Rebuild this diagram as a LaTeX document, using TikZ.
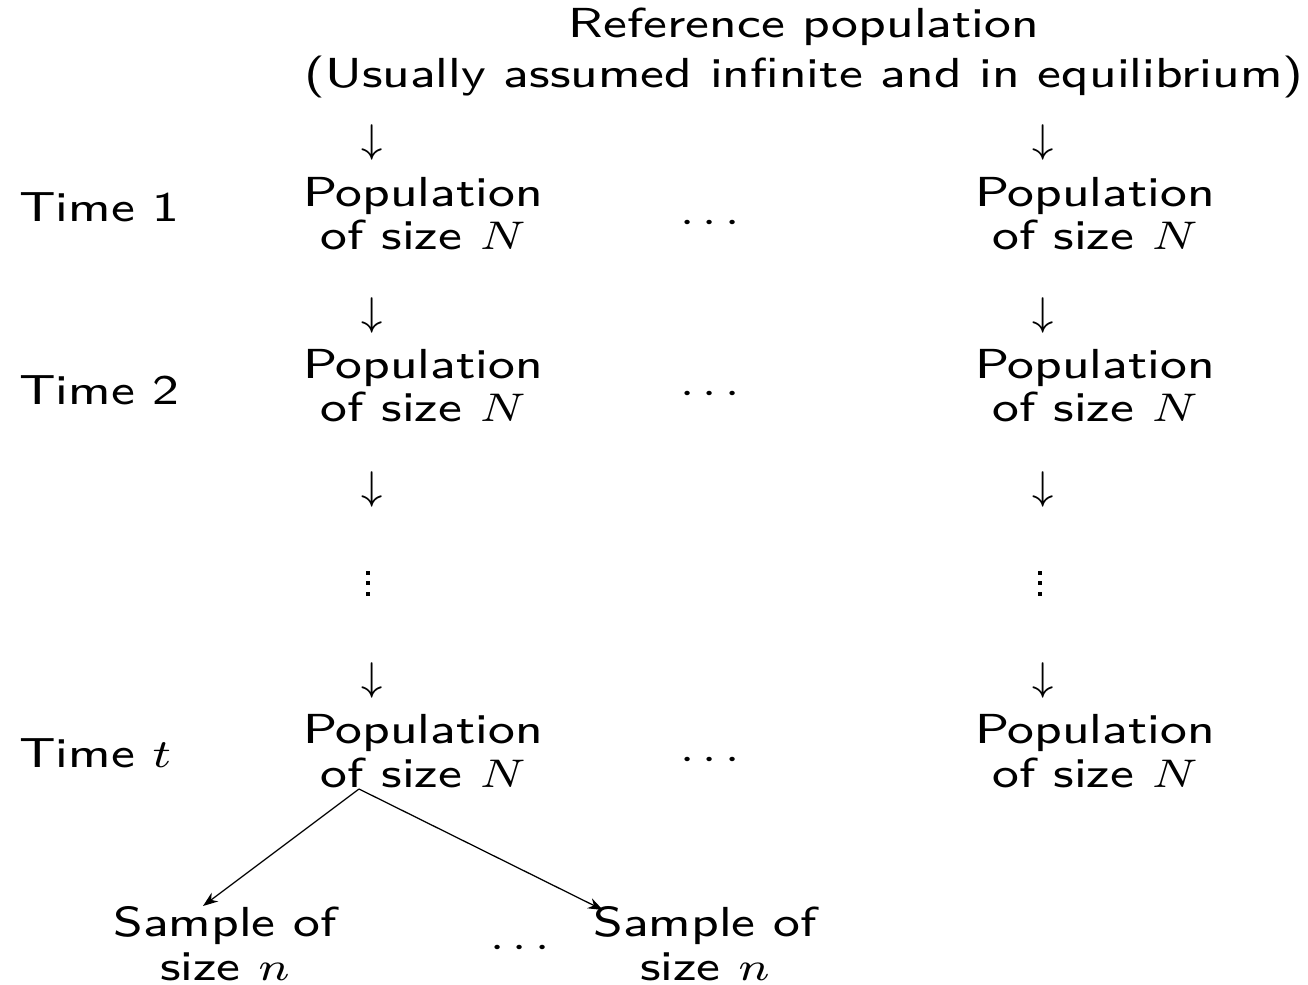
\documentclass[tikz,border=0pt]{standalone}
\usepackage{amsmath}
\usetikzlibrary{arrows.meta}
\begin{document}
\begin{tikzpicture}[x=0.2pt,y=-0.2pt,
  txt/.style={font=\sffamily\fontsize{8.4}{8.7}\selectfont, inner sep=0pt, align=center, anchor=base, xscale=1.2},
  ttl/.style={txt, font=\sffamily\fontsize{8.4}{10}\selectfont},
  arr/.style={font=\fontsize{8.4}{9}\selectfont, inner sep=0pt},
  vdot/.style={fill=black, draw=none, minimum size=0.8pt, inner sep=0pt, shape=rectangle},
  conn/.style={-{Stealth[length=3pt,width=2.2pt]}, line width=0.25pt}]
\useasboundingbox (0,0) rectangle (1308,985);
\node[ttl] (ref) at (804,88) {Reference population\\(Usually assumed infinite and in equilibrium)};
\node[arr] (a1l) at (372,143) {$\downarrow$};
\node[arr] (a1r) at (1043,143) {$\downarrow$};
\node[txt] (p1l) at (423,250) {Population\\of size $N$};
\node[txt] (p1r) at (1095,250) {Population\\of size $N$};
\node[txt,anchor=base west] (t1) at (18,222) {Time 1};
\node[txt] (d1) at (714,233) {$\cdots$};
\node[arr] (a2l) at (372,316) {$\downarrow$};
\node[arr] (a2r) at (1043,316) {$\downarrow$};
\node[txt] (p2l) at (423,422) {Population\\of size $N$};
\node[txt] (p2r) at (1095,422) {Population\\of size $N$};
\node[txt,anchor=base west] (t2) at (18,405) {Time 2};
\node[txt] (d2) at (714,404) {$\cdots$};
\node[arr] (a3l) at (372,490) {$\downarrow$};
\node[arr] (a3r) at (1043,490) {$\downarrow$};
\foreach \yy [count=\k] in {573,583.5,594}{
  \node[vdot] (vl\k) at (368,\yy) {};
  \node[vdot] (vr\k) at (1040,\yy) {};
}
\node[arr] (a4l) at (372,681) {$\downarrow$};
\node[arr] (a4r) at (1043,681) {$\downarrow$};
\node[txt] (ptl) at (423,787) {Population\\of size $N$};
\node[txt] (ptr) at (1095,787) {Population\\of size $N$};
\node[txt,anchor=base west] (tt) at (18,767) {Time $t$};
\node[txt] (dt) at (714,769) {$\cdots$};
\coordinate (src) at (359,789);
\node[txt] (s1) at (225,980) {Sample of\\size $n$};
\node[txt] (s2) at (705,980) {Sample of\\size $n$};
\node[txt] (ds) at (524,957) {$\cdots$};
\coordinate (e1) at (203,906);
\coordinate (e2) at (603,910);
\draw[conn] (src) -- (e1);
\draw[conn] (src) -- (e2);
\end{tikzpicture}
\end{document}
